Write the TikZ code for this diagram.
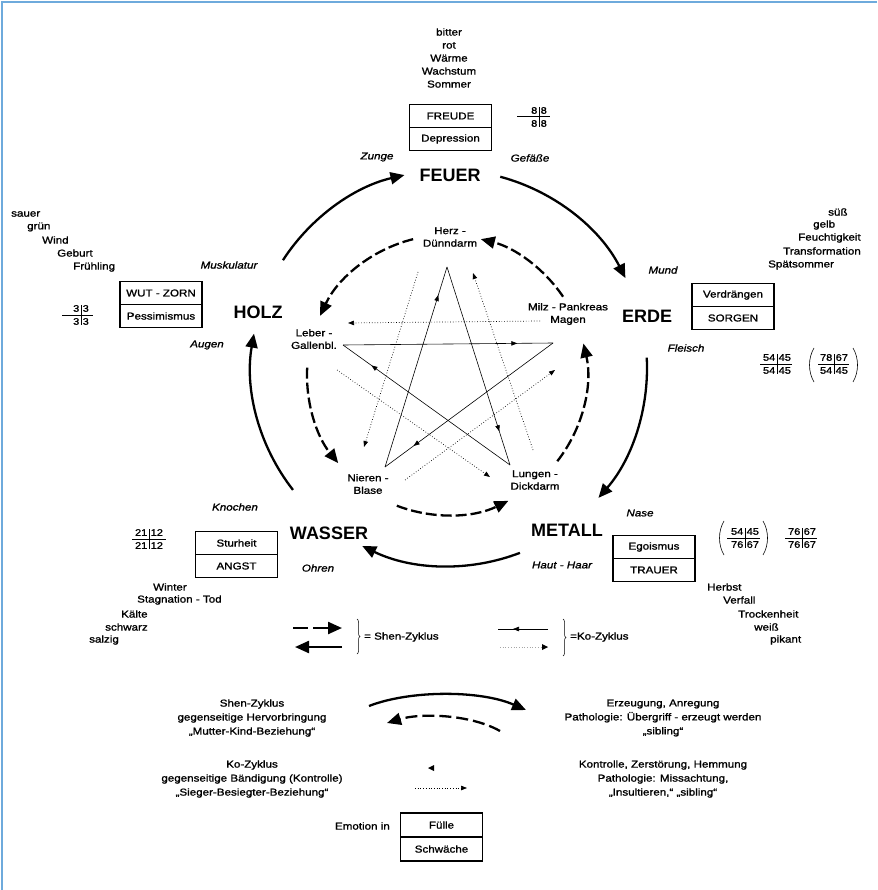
\documentclass[tikz,border=0pt]{standalone}
\usepackage{fontspec}
\setmainfont{Liberation Sans}[FakeStretch=1.16,FakeBold=1.3]
\newfontfamily\bigfont{Liberation Sans}
\usetikzlibrary{arrows.meta,decorations.markings,decorations.pathreplacing,calc}
\definecolor{frameblue}{RGB}{110,170,220}
\tikzset{
  txt/.style={inner sep=0pt, align=center, font=\fontsize{10}{14}\selectfont},
  lst/.style={inner sep=0pt, anchor=west, font=\fontsize{10}{13}\selectfont},
  ital/.style={inner sep=0pt, font=\itshape\fontsize{10}{13}\selectfont},
  elem/.style={inner sep=0pt, font=\bigfont\bfseries\fontsize{18}{20}\selectfont},
  organ/.style={inner sep=0pt, align=center, font=\fontsize{10}{12.5}\selectfont},
  num/.style={inner sep=0pt, font=\fontsize{9.5}{10}\selectfont},
  boxrow/.style={draw, line width=1.8pt, minimum width=82pt, minimum height=23pt, inner sep=0pt, font=\fontsize{10}{12}\selectfont},
  shen/.style={line width=2.3pt, -{Triangle[length=14pt,width=12pt]}},
  shendash/.style={shen, dash pattern=on 11pt off 4pt},
  kostar/.style={line width=0.6pt, postaction={decorate}, decoration={markings, mark=at position #1 with {\arrow{Triangle[length=6pt,width=4.5pt]}}}},
  kodot/.style={line width=0.7pt, dash pattern=on 0.7pt off 2pt, -{Triangle[length=6pt,width=4.5pt]}},
  gridline/.style={line width=1pt},
  parenline/.style={line width=0.6pt},
  bracestyle/.style={decorate, decoration={brace, amplitude=3pt}, line width=0.5pt},
}
\newcommand\fgrid[9]{%
  \draw[gridline] (#4,#3) -- (#5,#3);
  \draw[gridline] (#2,#3-10) -- (#2,#3+10);
  \node[num,anchor=east] (#1a) at (#2-1.5,#3-6.5) {#6};
  \node[num,anchor=west] (#1b) at (#2+1.5,#3-6.5) {#7};
  \node[num,anchor=east] (#1c) at (#2-1.5,#3+6.5) {#8};
  \node[num,anchor=west] (#1d) at (#2+1.5,#3+6.5) {#9};
}
\begin{document}
\begin{tikzpicture}[x=1pt,y=-1pt]
\useasboundingbox (0,0) rectangle (877,890);
\draw[frameblue,line width=1.5pt] (2,890) -- (2,2) -- (877,2);

\coordinate (Co) at (449,368);
\coordinate (Ci) at (447,375);

% ---------- elements
\node[elem] (feuer) at (450,175) {FEUER};
\node[elem] (erde) at (647,316) {ERDE};
\node[elem] (metall) at (567,530) {METALL};
\node[elem] (wasser) at (329,533) {WASSER};
\node[elem] (holz) at (258,312) {HOLZ};

% ---------- outer Shen arcs
\draw[shen] ($(Co)+(147:198pt)$) arc[start angle=147,end angle=103,radius=198pt];
\draw[shen] ($(Co)+(75:198pt)$) arc[start angle=75,end angle=27,radius=198pt];
\draw[shen] ($(Co)+(3:198pt)$) arc[start angle=3,end angle=-41,radius=198pt];
\draw[shen] ($(Co)+(-69:198pt)$) arc[start angle=-69,end angle=-116,radius=198pt];
\draw[shen] ($(Co)+(218:198pt)$) arc[start angle=218,end angle=170,radius=198pt];

% ---------- organs
\node[organ] (herz) at (450,237) {Herz -\\Dünndarm};
\node[organ] (milz) at (568,314) {Milz - Pankreas\\Magen};
\node[organ] (leber) at (314,339) {Leber -\\Gallenbl.};
\node[organ] (nieren) at (368,484) {Nieren -\\Blase};
\node[organ] (lungen) at (535,480) {Lungen -\\Dickdarm};

% ---------- inner dashed arcs
\draw[shendash] ($(Ci)+(104:140pt)$) arc[start angle=104,end angle=155,radius=140pt];
\draw[shendash] ($(Ci)+(34:140pt)$) arc[start angle=34,end angle=76,radius=140pt];
\draw[shendash] ($(Ci)+(-38:140pt)$) arc[start angle=-38,end angle=13,radius=140pt];
\draw[shendash] ($(Ci)+(-111:140pt)$) arc[start angle=-111,end angle=-64,radius=140pt];
\draw[shendash] ($(Ci)+(177:140pt)$) arc[start angle=177,end angle=219,radius=140pt];

% ---------- star (Ko)
\coordinate (sT) at (447,267);
\coordinate (sR) at (553,343);
\coordinate (sBR) at (510,465);
\coordinate (sBL) at (385,467);
\coordinate (sL) at (343,345);
\draw[kostar=0.86] (sBL) -- (sT);
\draw[kostar=0.83] (sT) -- (sBR);
\draw[kostar=0.83] (sL) -- (sR);
\draw[kostar=0.83] (sR) -- (sBL);
\draw[kostar=0.83] (sBR) -- (sL);

% ---------- dotted (reverse Ko)
\coordinate (d1a) at (540,321); \coordinate (d1b) at (348,323);
\coordinate (d2a) at (418,272); \coordinate (d2b) at (364,447);
\coordinate (d3a) at (533,450); \coordinate (d3b) at (473,273);
\coordinate (d4a) at (337,370); \coordinate (d4b) at (490,477);
\coordinate (d5a) at (405,480); \coordinate (d5b) at (555,370);
\draw[kodot] (d1a) -- (d1b);
\draw[kodot] (d2a) -- (d2b);
\draw[kodot] (d3a) -- (d3b);
\draw[kodot] (d4a) -- (d4b);
\draw[kodot] (d5a) -- (d5b);

% ---------- body parts
\node[ital] (zunge) at (377,157) {Zunge};
\node[ital] (gefaesse) at (530,158) {Gefäße};
\node[ital] (mund) at (663,270) {Mund};
\node[ital] (fleisch) at (686,348) {Fleisch};
\node[ital] (nase) at (640,513) {Nase};
\node[ital] (haut) at (562,565) {Haut - Haar};
\node[ital] (knochen) at (235,507) {Knochen};
\node[ital] (ohren) at (318,568) {Ohren};
\node[ital] (muskel) at (229,265) {Muskulatur};
\node[ital] (augen) at (207,345) {Augen};

% ---------- lists
\node[txt,font=\fontsize{10}{13}\selectfont] (feuerlist) at (449,58) {bitter\\rot\\Wärme\\Wachstum\\Sommer};

\node[lst] (h1) at (11,214) {sauer};
\node[lst] (h2) at (27,227) {grün};
\node[lst] (h3) at (42,240) {Wind};
\node[lst] (h4) at (57,253) {Geburt};
\node[lst] (h5) at (73,267) {Frühling};

\node[lst] (e1) at (828,212) {süß};
\node[lst] (e2) at (813,225) {gelb};
\node[lst] (e3) at (798,238) {Feuchtigkeit};
\node[lst] (e4) at (783,251) {Transformation};
\node[lst] (e5) at (768,265) {Spätsommer};

\node[lst] (m1) at (707,587) {Herbst};
\node[lst] (m2) at (723,600) {Verfall};
\node[lst] (m3) at (738,614) {Trockenheit};
\node[lst] (m4) at (754,627) {weiß};
\node[lst] (m5) at (770,640) {pikant};

\node[lst] (w1) at (153,587) {Winter};
\node[lst] (w2) at (137,600) {Stagnation - Tod};
\node[lst] (w3) at (121,614) {Kälte};
\node[lst] (w4) at (105,627) {schwarz};
\node[lst] (w5) at (89,640) {salzig};

% ---------- emotion boxes
\node[boxrow] (feuerA) at (450.5,116) {FREUDE};
\node[boxrow] (feuerB) at (450.5,139) {Depression};
\node[boxrow] (holzA) at (161,293) {WUT - ZORN};
\node[boxrow] (holzB) at (161,316) {Pessimismus};
\node[boxrow] (erdeA) at (733,295) {Verdrängen};
\node[boxrow] (erdeB) at (733,318) {SORGEN};
\node[boxrow] (metallA) at (654,547) {Egoismus};
\node[boxrow] (metallB) at (654,570) {TRAUER};
\node[boxrow] (wasserA) at (236.5,543) {Sturheit};
\node[boxrow] (wasserB) at (236.5,566) {ANGST};

% ---------- fractions
\fgrid{fa}{539}{117}{517}{550}{8}{8}{8}{8}
\fgrid{fb}{81}{315}{62}{93}{3}{3}{3}{3}
\fgrid{fc}{777}{364}{760}{792}{54}{45}{54}{45}
\fgrid{fd}{834}{364}{818}{849}{78}{67}{54}{45}
\draw[parenline] (814,348) .. controls (808,358) and (808,372) .. (814,382);
\draw[parenline] (853,348) .. controls (859,358) and (859,372) .. (853,382);
\fgrid{fe}{745}{538}{727}{760}{54}{45}{76}{67}
\draw[parenline] (724,521) .. controls (718,531) and (718,545) .. (724,555);
\draw[parenline] (763,521) .. controls (769,531) and (769,545) .. (763,555);
\fgrid{ff}{802}{538}{785}{817}{76}{67}{76}{67}
\fgrid{fg}{149}{539}{132}{166}{21}{12}{21}{12}

% ---------- legend
\coordinate (l1a) at (293,628); \coordinate (l1b) at (342,628);
\coordinate (l2a) at (342,647); \coordinate (l2b) at (295,647);
\draw[shen, dash pattern=on 15pt off 5pt] (l1a) -- (l1b);
\draw[shen] (l2a) -- (l2b);
\draw[bracestyle] (357,619) -- (357,654);
\node[lst] (shenlab) at (364,637) {= Shen-Zyklus};

\coordinate (l3a) at (548,629); \coordinate (l3b) at (498,629);
\coordinate (l4a) at (500,647); \coordinate (l4b) at (548,647);
\draw[kostar=0.7] (l3a) -- (l3b);
\draw[kodot, black!35] (l4a) -- (l4b);
\fill (548,647) -- ++(-6,-3) -- ++(0,6) -- cycle;
\draw[bracestyle] (563,619) -- (563,656);
\node[lst] (kolab) at (570,637) {=Ko-Zyklus};

% ---------- explanation
\coordinate (b1a) at (369,706); \coordinate (b1b) at (526,710);
\draw[shen] (b1a) .. controls (410,690) and (480,690) .. (b1b);
\coordinate (b2a) at (500,731); \coordinate (b2b) at (387,723);
\draw[shendash, dash pattern=on 12pt off 5pt] (b2a) .. controls (470,714) and (420,713) .. (b2b);

\node[txt] (shenT) at (252,718) {Shen-Zyklus\\gegenseitige Hervorbringung\\„Mutter-Kind-Beziehung“};
\node[txt] (koT) at (252,779) {Ko-Zyklus\\gegenseitige Bändigung (Kontrolle)\\„Sieger-Besiegter-Beziehung“};
\node[txt] (shenR) at (663,718) {Erzeugung, Anregung\\Pathologie: Übergriff - erzeugt werden\\„sibling“};
\node[txt] (koR) at (663,779) {Kontrolle, Zerstörung, Hemmung\\Pathologie: Missachtung,\\„Insultieren,“ „sibling“};

\coordinate (b3) at (428,768);
\fill (b3) -- ++(6,-3) -- ++(0,6) -- cycle;
\coordinate (b4a) at (415,788); \coordinate (b4b) at (467,788);
\draw[kodot] (b4a) -- (b4b);

\node[lst,anchor=east] (emo) at (390,826) {Emotion in};
\node[boxrow,minimum height=24pt] (emoA) at (441.5,825) {Fülle};
\node[boxrow,minimum height=24pt] (emoB) at (441.5,849) {Schwäche};
\end{tikzpicture}
\end{document}
